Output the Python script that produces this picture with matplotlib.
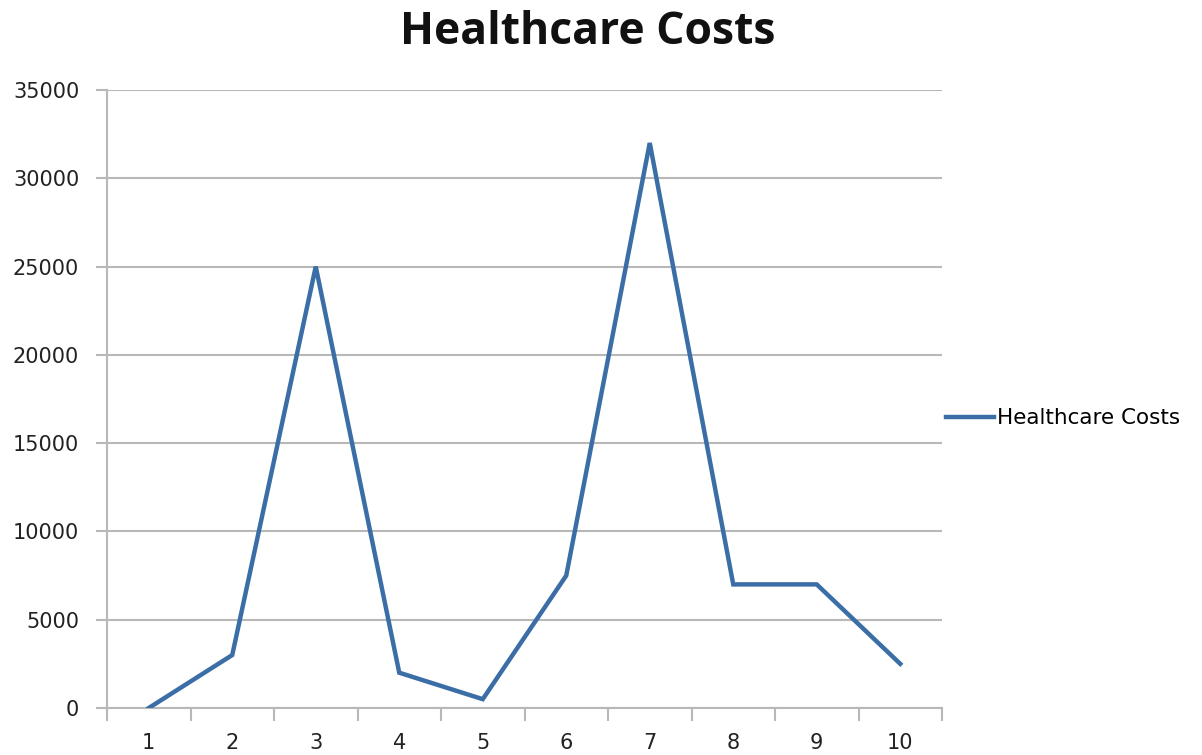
import matplotlib

matplotlib.use("Agg")
import matplotlib.pyplot as plt
from matplotlib.ticker import MultipleLocator, FixedLocator

plt.rcParams["font.family"] = ["DejaVu Sans"]

categories = [1, 2, 3, 4, 5, 6, 7, 8, 9, 10]
costs = [0, 3000, 25000, 2000, 500, 7500, 32000, 7000, 7000, 2500]
series_name = "Healthcare Costs"
title = "Healthcare Costs"

GRID = "#b8b8b8"
LINE = "#3b6ea6"

fig = plt.figure(figsize=(12.02, 7.55), dpi=100)
ax = fig.add_axes([107 / 1202, 1 - 708 / 755, (942 - 107) / 1202, (708 - 90) / 755])

ax.plot(categories, costs, color=LINE, lw=3.2, label=series_name,
        solid_joinstyle="miter", zorder=3)

ax.set_xlim(0.5, 10.5)
ax.set_ylim(0, 35000)
ax.yaxis.set_major_locator(MultipleLocator(5000))
ax.set_xticks(categories)
ax.set_xticklabels([str(c) for c in categories])
ax.xaxis.set_minor_locator(FixedLocator([c + 0.5 for c in [0] + categories]))

ax.grid(axis="y", color=GRID, lw=1.5)
ax.set_axisbelow(True)
for side in ["top", "right"]:
    ax.spines[side].set_visible(False)
for side in ["left", "bottom"]:
    ax.spines[side].set_color(GRID)
    ax.spines[side].set_linewidth(1.5)

ax.tick_params(axis="x", which="major", length=0, pad=18, labelsize=15, labelcolor="#222222")
ax.tick_params(axis="x", which="minor", length=9, width=1.5, color=GRID, direction="out")
ax.tick_params(axis="y", length=8, width=1.5, color=GRID, pad=12, labelsize=15, labelcolor="#222222")

fig.text(588 / 1202, 1 - 32 / 755, title, ha="center", va="center",
         fontsize=32, fontweight="bold", color="#111111", family="Open Sans")

ax.legend(loc="center left", bbox_to_anchor=(0.995, 0.469), frameon=False,
          fontsize=15.5, handlelength=2.2, handletextpad=0.15, borderaxespad=0)

fig.savefig("out.png", dpi=100)
plt.close(fig)
